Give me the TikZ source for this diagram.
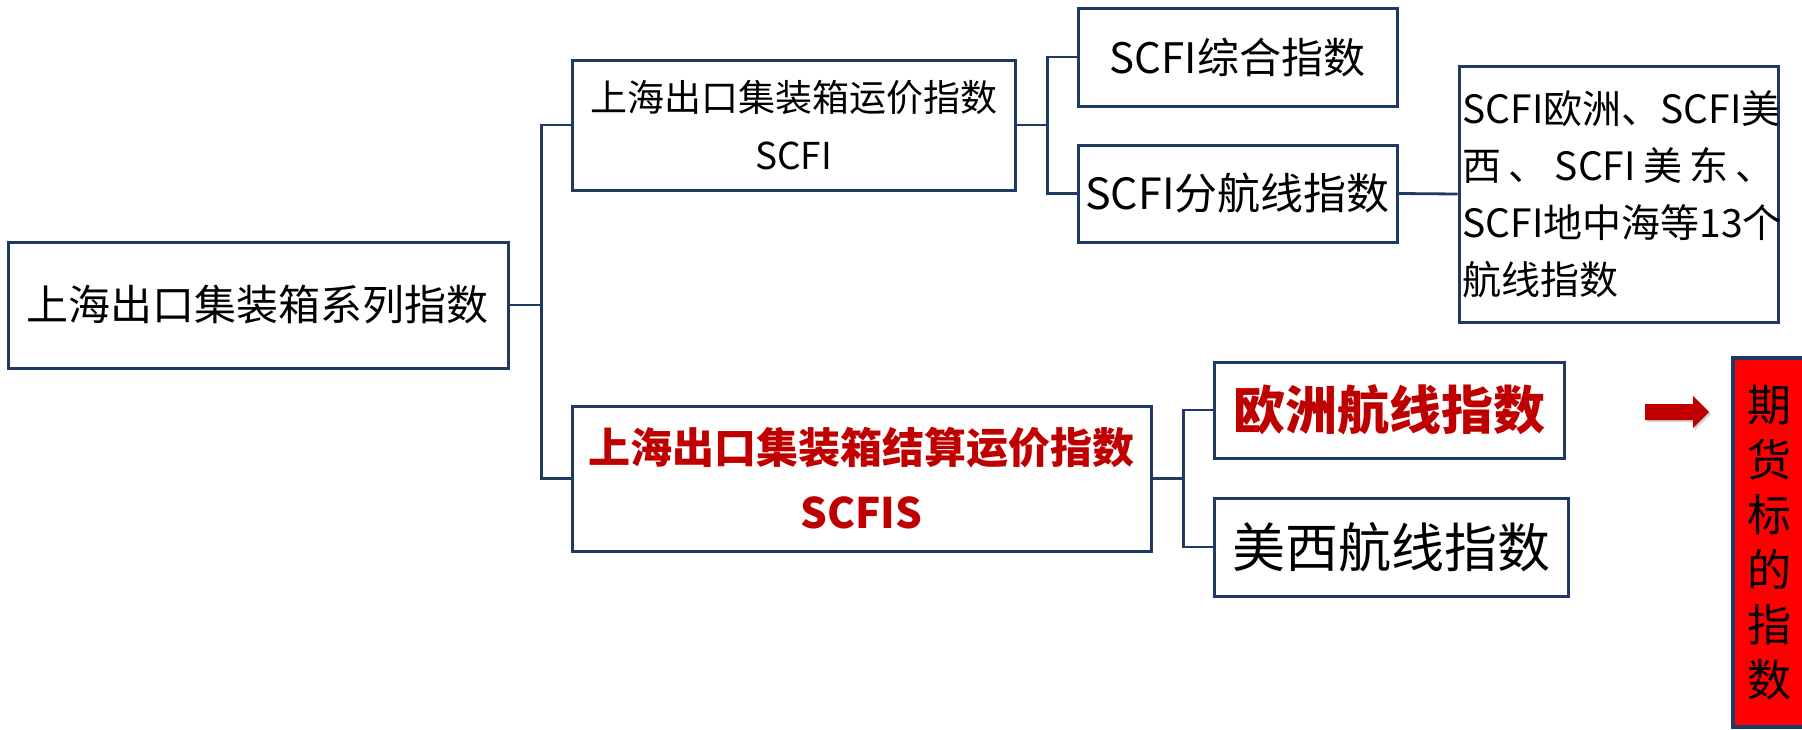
\documentclass[tikz,border=0pt]{standalone}
\usepackage{fontspec}
\setmainfont{Noto Sans CJK SC}
\usepackage{tikz}
\usetikzlibrary{shadows}
\definecolor{navy}{RGB}{31,56,100}
\definecolor{darkred}{RGB}{192,0,0}
\newcommand{\sz}[2]{\fontsize{#1}{#2}\selectfont}
\tikzset{box/.style={draw=navy,line width=3pt,inner sep=0pt,fill=white,align=center},
  link/.style={draw=navy,line width=2.8pt}}

\begin{document}
\begin{tikzpicture}[x=1pt,y=-1pt,>=latex]
      \useasboundingbox (0,0) rectangle (1802,729);
      \node[box,minimum width=500pt,minimum height=126pt,font=\sz{42}{50}] (root) at (258,305) {上海出口集装箱系列指数};
      \node[box,minimum width=443pt,minimum height=130pt,font=\sz{37}{58}] (scfi) at (793.5,125) {上海出口集装箱运价指数\\SCFI};
      \node[box,minimum width=579pt,minimum height=145pt,text=darkred,font=\sz{42}{65}\bfseries] (scfis) at (861.5,478.5) {上海出口集装箱结算运价指数\\SCFIS};
      \node[box,minimum width=319pt,minimum height=98pt,font=\sz{42}{50}] (zonghe) at (1237.5,57) {SCFI综合指数};
      \node[box,minimum width=319pt,minimum height=97pt,font=\sz{43}{50}] (fenhang) at (1237.5,193.5) {SCFI分航线指数};
      \node[box,minimum width=319pt,minimum height=256pt,text width=312pt,align=left,font=\sz{39}{57}] (lines) at (1618.5,194)
        {SCFI欧洲、SCFI美\\\makebox[312pt][l]{西\hfill 、\hfill SCFI\hfill 美\hfill 东\hfill 、}\\SCFI地中海等13个\\航线指数};
      \node[box,minimum width=350pt,minimum height=96pt,text=darkred,font=\sz{52}{60}\bfseries] (ouzhou) at (1389,410) {欧洲航线指数};
      \node[box,minimum width=354pt,minimum height=98pt,font=\sz{53}{60}] (meixi) at (1391,547) {美西航线指数};
      \node[box,fill=red,line width=4pt,minimum width=72pt,minimum height=369pt,font=\sz{44}{55}] (futures) at (1769,542.5)
        {期\\货\\标\\的\\指\\数};
%     connectors
      \draw[link] (root.east) -- ++(32,0) coordinate (t1) |- (scfi.west) (t1) |- (scfis.west);
      \draw[link] (scfi.east) -- ++(31,0) coordinate (t2) |- (zonghe.west) (t2) |- (fenhang.west);
      \draw[link] (fenhang.east) -- (lines.west);
      \draw[link] (scfis.east) -- ++(31,0) coordinate (t3) |- (ouzhou.west) (t3) |- (meixi.west);
%     block arrow
      \fill[darkred,drop shadow={shadow xshift=2pt,shadow yshift=-2pt,opacity=.35}] (1645,404) -- (1693,404) -- (1693,396) -- (1709,412)
        -- (1693,428) -- (1693,420) -- (1645,420) -- cycle;
    \end{tikzpicture}
\end{document}
